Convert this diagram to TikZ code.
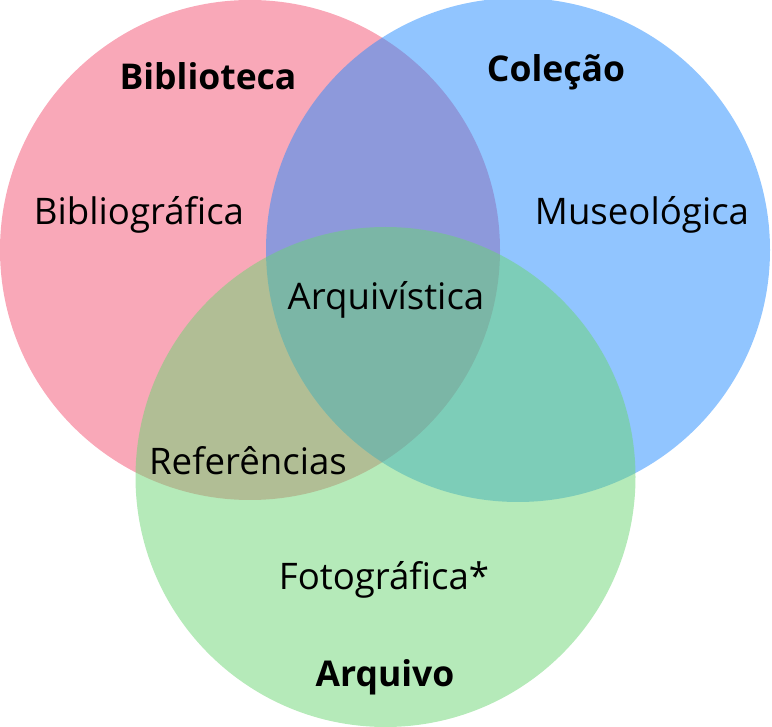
\documentclass[tikz,border=0pt]{standalone}
\usepackage{fontspec}
\setmainfont{Open Sans}
\usepackage{xcolor}
\definecolor{setpink}{HTML}{F35171}
\definecolor{setblue}{HTML}{238BFF}
\definecolor{setgreen}{HTML}{6BD573}

\begin{document}
\begin{tikzpicture}[x=1pt,y=-1pt,
    disc/.style={opacity=0.5},
    lbl/.style={inner sep=0pt,font=\fontsize{36.6}{40}\selectfont},
    ttl/.style={lbl,font=\fontsize{35.5}{40}\selectfont\bfseries}]

  \useasboundingbox (0,0) rectangle (772,727);

  \fill[disc,setpink]  (250,250) circle[radius=250];
  \fill[disc,setblue]  (518,250) circle[radius=252];
  \fill[disc,setgreen] (385.5,477) circle[radius=250];

  \node[ttl] (bib)  at (208,76)  {Biblioteca};
  \node[ttl] (col)  at (556,72)  {Coleção};
  \node[ttl] (arq)  at (385,677) {Arquivo};

  \node[lbl] (bibl) at (139,215) {Bibliográfica};
  \node[lbl] (mus)  at (642,215) {Museológica};
  \node[lbl] (arqv) at (386,300) {Arquivística};
  \node[lbl] (ref)  at (248,461) {Referências};
  \node[lbl] (foto) at (384,580) {Fotográfica*};
\end{tikzpicture}
\end{document}
